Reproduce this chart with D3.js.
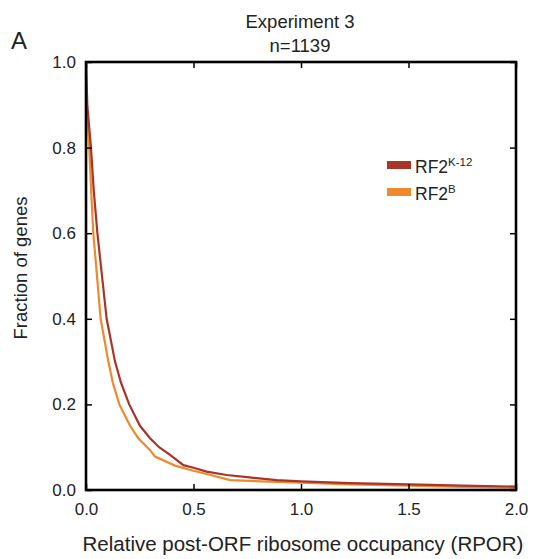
<!DOCTYPE html>
<html>
<head>
<meta charset="utf-8">
<script src="https://cdn.jsdelivr.net/npm/d3@7"></script>
<style>
  body { margin: 0; background: #fff; }
  text { font-family: "Liberation Sans", Arial, sans-serif; fill: #222; }
</style>
</head>
<body>
<svg id="chart"></svg>
<script>
var svgWidth = 535;
var svgHeight = 559;
var margin = { top: 62, right: 19, bottom: 69, left: 86 },
    width = svgWidth - margin.left - margin.right,
    height = svgHeight - margin.top - margin.bottom;

// survival curves: fraction of genes with RPOR above x
var rporK12 = [0, 0.006, 0.023, 0.036, 0.053, 0.073, 0.096, 0.135, 0.163, 0.201, 0.251, 0.298, 0.34, 0.391, 0.453, 0.5, 0.561, 0.654, 0.75, 0.887, 1.0, 1.228, 1.5, 1.75, 2.0];
var fracK12 = [1.0, 0.9, 0.8, 0.7, 0.6, 0.507, 0.4, 0.3, 0.25, 0.2, 0.15, 0.121, 0.1, 0.082, 0.058, 0.052, 0.043, 0.035, 0.03, 0.023, 0.02, 0.016, 0.013, 0.01, 0.008];
var rporB = [0, 0.004, 0.015, 0.024, 0.034, 0.05, 0.068, 0.104, 0.125, 0.155, 0.205, 0.243, 0.298, 0.321, 0.414, 0.499, 0.58, 0.67, 0.887, 1.0, 1.228, 1.5, 1.75, 2.0];
var fracB = [1.0, 0.9, 0.8, 0.7, 0.6, 0.507, 0.4, 0.3, 0.25, 0.2, 0.15, 0.121, 0.093, 0.078, 0.057, 0.045, 0.035, 0.023, 0.019, 0.017, 0.013, 0.01, 0.007, 0.005];

var xTicks = [0, 0.5, 1.0, 1.5, 2.0];
var yTicks = [0, 0.2, 0.4, 0.6, 0.8, 1.0];

var series = [
    { name: "RF2", sup: "K-12", color: "#a8342a", x: rporK12, y: fracK12 },
    { name: "RF2", sup: "B", color: "#ef8a2c", x: rporB, y: fracB }
];

var svg = d3.select("#chart").attr("width", svgWidth).attr("height", svgHeight);
var g = svg.append("g").attr("transform", `translate(${margin.left},${margin.top})`);

var x = d3.scaleLinear().domain([0, 2]).range([0, width]);
var y = d3.scaleLinear().domain([0, 1]).range([height, 0]);

// curves
var line = d3.line().x(d => x(d[0])).y(d => y(d[1]));
series.slice().reverse().forEach(function (s) {
    g.append("path")
        .datum(s.x.map((v, i) => [v, s.y[i]]))
        .attr("fill", "none")
        .attr("stroke", s.color)
        .attr("stroke-width", 2.2)
        .attr("d", line);
});

// axes with inward ticks on all sides
function styleAxis(sel) {
    sel.select(".domain").remove();
    sel.selectAll(".tick line").attr("stroke", "#000").attr("stroke-width", 1.5);
    sel.selectAll(".tick text").attr("font-size", 17).attr("fill", "#222");
}
g.append("g").attr("transform", `translate(0,${height})`)
    .call(d3.axisBottom(x).tickValues(xTicks).tickFormat(d3.format(".1f")).tickSizeInner(-6).tickPadding(13))
    .call(styleAxis);
g.append("g")
    .call(d3.axisLeft(y).tickValues(yTicks).tickFormat(d3.format(".1f")).tickSizeInner(-6).tickPadding(10))
    .call(styleAxis);
g.append("g")
    .call(d3.axisTop(x).tickValues(xTicks).tickFormat("").tickSizeInner(-6))
    .call(styleAxis);
g.append("g").attr("transform", `translate(${width},0)`)
    .call(d3.axisRight(y).tickValues(yTicks).tickFormat("").tickSizeInner(-6))
    .call(styleAxis);

// frame
g.append("rect")
    .attr("width", width).attr("height", height)
    .attr("fill", "none").attr("stroke", "#000").attr("stroke-width", 2.6);

// titles
svg.append("text").attr("x", 300).attr("y", 28).attr("text-anchor", "middle")
    .attr("font-size", 18.5).text("Experiment 3");
svg.append("text").attr("x", 300).attr("y", 52).attr("text-anchor", "middle")
    .attr("font-size", 18.5).text("n=1139");
svg.append("text").attr("x", 11).attr("y", 49).attr("font-size", 24).text("A");

svg.append("text").attr("x", 303).attr("y", 551).attr("text-anchor", "middle")
    .attr("font-size", 20.5).text("Relative post-ORF ribosome occupancy (RPOR)");
svg.append("text").attr("transform", `translate(27,${margin.top + height / 2 - 8}) rotate(-90)`)
    .attr("text-anchor", "middle").attr("font-size", 18.5).text("Fraction of genes");

// legend
var legend = svg.append("g").attr("transform", "translate(387,165)");
series.forEach(function (s, i) {
    var row = legend.append("g").attr("transform", `translate(0,${i * 27})`);
    row.append("rect").attr("x", 0).attr("y", -4).attr("width", 24).attr("height", 8).attr("fill", s.color);
    var t = row.append("text").attr("x", 28).attr("y", 8).attr("font-size", 17.5);
    t.append("tspan").text(s.name);
    t.append("tspan").attr("dy", -7).attr("font-size", 11.5).text(s.sup);
});
</script>
</body>
</html>
